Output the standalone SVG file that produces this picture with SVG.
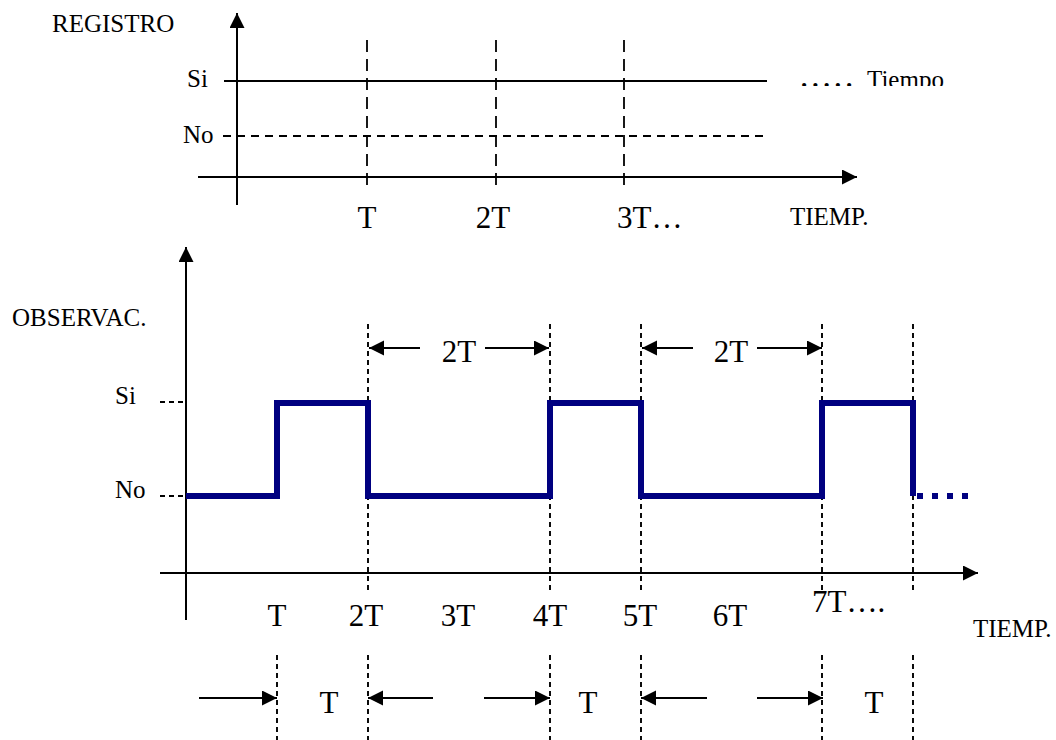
<svg xmlns="http://www.w3.org/2000/svg" width="1056" height="740" viewBox="0 0 1056 740">
<style>
text{font-family:"Liberation Serif","Times New Roman",serif;fill:#000}
.s{font-size:25px}
.l{font-size:31px}
.ax{stroke:#000;stroke-width:2;fill:none}
.dt{stroke:#000;stroke-width:1.8;stroke-dasharray:12 7;fill:none}
.dh{stroke:#000;stroke-width:1.8;stroke-dasharray:8 6;fill:none}
.db{stroke:#000;stroke-width:1.9;stroke-dasharray:5 4;fill:none}
.ar{stroke:#000;stroke-width:2;fill:none;marker-end:url(#ah)}
.wave{stroke:#000080;stroke-width:6;fill:none;stroke-linejoin:miter}
</style>
<defs>
<marker id="ah" markerWidth="16" markerHeight="16" refX="15" refY="7.5" orient="auto" markerUnits="userSpaceOnUse"><path d="M0,0 L15,7.5 L0,15 z" fill="#000"/></marker>
<clipPath id="clipT"><rect x="780" y="40" width="276" height="46"/></clipPath>
</defs>
<rect width="1056" height="740" fill="#fff"/>

<g id="top-chart">
<line class="ax" x1="237" y1="205" x2="237" y2="13" marker-end="url(#ah)"/>
<line class="ax" x1="198" y1="177" x2="857" y2="177" marker-end="url(#ah)"/>
<line class="ax" x1="224" y1="81" x2="767" y2="81"/>
<line class="dh" x1="223" y1="136" x2="763" y2="136"/>
<line class="dt" x1="367" y1="40" x2="367" y2="192"/>
<line class="dt" x1="496" y1="40" x2="496" y2="192"/>
<line class="dt" x1="624" y1="40" x2="624" y2="192"/>
<text id="lbl-registro" class="s" x="52" y="32">REGISTRO</text>
<text class="s" x="187" y="87" font-size="24">Si</text>
<text class="s" x="183" y="143" font-size="24">No</text>
<text class="l" x="367" y="228" text-anchor="middle">T</text>
<text class="l" x="493" y="228" text-anchor="middle">2T</text>
<text class="l" x="617" y="228">3T…</text>
<text class="s" x="790" y="225">TIEMP.</text>
<g clip-path="url(#clipT)">
<text class="s" x="801" y="87"><tspan font-weight="bold" letter-spacing="5">.....</tspan></text>
<text class="s" x="867" y="88">Tiempo</text>
</g>
</g>

<g id="bottom-chart">
<line class="ax" x1="186" y1="620" x2="186" y2="247" marker-end="url(#ah)"/>
<line class="ax" x1="160" y1="573" x2="978" y2="573" marker-end="url(#ah)"/>
<line class="db" x1="160" y1="402" x2="183" y2="402" stroke-dasharray="8 6"/>
<line class="db" x1="160" y1="496" x2="183" y2="496" stroke-dasharray="8 6"/>
<text class="s" x="115" y="404">Si</text>
<text class="s" x="115" y="498">No</text>
<text class="s" x="12" y="326">OBSERVAC.</text>
<text class="l" x="277" y="626" text-anchor="middle">T</text>
<text class="l" x="366" y="626" text-anchor="middle">2T</text>
<text class="l" x="458" y="626" text-anchor="middle">3T</text>
<text class="l" x="550" y="626" text-anchor="middle">4T</text>
<text class="l" x="640" y="626" text-anchor="middle">5T</text>
<text class="l" x="730" y="626" text-anchor="middle">6T</text>
<text class="l" x="812" y="612">7T….</text>
<text class="s" x="973" y="637">TIEMP.</text>
</g>

<g id="guides">
<line class="db" x1="368" y1="324" x2="368" y2="592"/>
<line class="db" x1="550" y1="324" x2="550" y2="592"/>
<line class="db" x1="641" y1="324" x2="641" y2="592"/>
<line class="db" x1="822" y1="324" x2="822" y2="592"/>
<line class="db" x1="913" y1="324" x2="913" y2="592"/>
<line class="db" x1="277" y1="655" x2="277" y2="740"/>
<line class="db" x1="368" y1="655" x2="368" y2="740"/>
<line class="db" x1="550" y1="655" x2="550" y2="740"/>
<line class="db" x1="641" y1="655" x2="641" y2="740"/>
<line class="db" x1="822" y1="655" x2="822" y2="740"/>
<line class="db" x1="913" y1="655" x2="913" y2="740"/>
</g>

<g id="waveform">
<polyline class="wave" points="186,496 277,496 277,403 368,403 368,496 550,496 550,403 641,403 641,496 822,496 822,403 913,403 913,496"/>
<line class="wave" x1="917" y1="496" x2="968" y2="496" stroke-dasharray="6 9"/>
</g>

<g id="connectors">
<line class="ar" x1="420" y1="348" x2="369" y2="348"/>
<line class="ar" x1="485" y1="348" x2="549" y2="348"/>
<line class="ar" x1="693" y1="348" x2="642" y2="348"/>
<line class="ar" x1="757" y1="348" x2="822" y2="348"/>
<line class="ar" x1="199" y1="698" x2="277" y2="698"/>
<line class="ar" x1="433" y1="698" x2="368" y2="698"/>
<line class="ar" x1="484" y1="698" x2="550" y2="698"/>
<line class="ar" x1="707" y1="698" x2="641" y2="698"/>
<line class="ar" x1="757" y1="698" x2="823" y2="698"/>
</g>

<g id="dimension-labels">
<text class="l" x="459" y="362" text-anchor="middle">2T</text>
<text class="l" x="731" y="362" text-anchor="middle">2T</text>
<text class="l" x="329" y="713" text-anchor="middle">T</text>
<text class="l" x="588" y="713" text-anchor="middle">T</text>
<text class="l" x="874" y="713" text-anchor="middle">T</text>
</g>
</svg>
